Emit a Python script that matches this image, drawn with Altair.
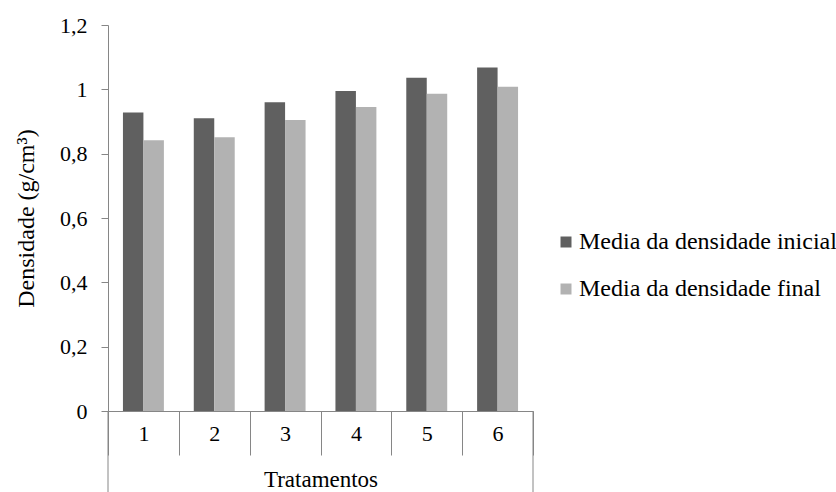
import altair as alt
import pandas as pd

tratamentos = ["1", "2", "3", "4", "5", "6"]
series_names = ["Media da densidade inicial", "Media da densidade final"]
inicial = [0.928, 0.910, 0.960, 0.995, 1.036, 1.068]
final = [0.842, 0.851, 0.905, 0.945, 0.986, 1.008]
y_ticks = [0, 0.2, 0.4, 0.6, 0.8, 1.0, 1.2]

rows = []
for t, a, b in zip(tratamentos, inicial, final):
    rows.append({"trat": t, "serie": series_names[0], "valor": a})
    rows.append({"trat": t, "serie": series_names[1], "valor": b})
df = pd.DataFrame(rows)

FONT = "Liberation Serif"
AXC = "#868686"
W, H = 425, 386

xscale = alt.Scale(domain=tratamentos, paddingInner=0, paddingOuter=0)

bars = alt.Chart(df).mark_bar().encode(
    x=alt.X("trat:N", scale=xscale, sort=tratamentos,
            axis=alt.Axis(title="Tratamentos", labelAngle=0, tickBand="extent",
                          tickSize=44, tickColor=AXC, domainColor=AXC,
                          labelPadding=-22, labelBaseline="middle",
                          labelFont=FONT, labelFontSize=22, labelColor="black",
                          titleFont=FONT, titleFontSize=23, titleFontWeight="normal",
                          titleColor="black", titlePadding=13)),
    xOffset=alt.XOffset("serie:N", sort=series_names,
                        scale=alt.Scale(paddingInner=0, paddingOuter=0.73)),
    y=alt.Y("valor:Q", scale=alt.Scale(domain=[0, 1.2], nice=False),
            axis=alt.Axis(title="Densidade (g/cm³)", values=y_ticks,
                          labelExpr="replace(format(datum.value, '~g'), '.', ',')",
                          grid=False, tickSize=7, tickColor=AXC, domainColor=AXC,
                          labelPadding=14, labelFont=FONT, labelFontSize=22,
                          labelColor="black", titleFont=FONT, titleFontSize=24,
                          titleFontWeight="normal", titleColor="black",
                          titlePadding=21)),
    color=alt.Color("serie:N", sort=series_names,
                    scale=alt.Scale(domain=series_names, range=["#606060", "#b2b2b2"]),
                    legend=alt.Legend(title=None, orient="none", legendX=446, legendY=205,
                                      symbolType="square", symbolSize=121,
                                      symbolStrokeWidth=0, labelFont=FONT,
                                      labelFontSize=24, labelColor="black",
                                      labelOffset=1, rowPadding=23, labelLimit=400)),
)

left_edge = alt.Chart(pd.DataFrame({"trat": [tratamentos[0]]})).mark_rule(color=AXC).encode(
    x=alt.X("trat:N", scale=xscale, bandPosition=0),
    y=alt.value(H), y2=alt.value(H + 81),
)
right_edge = alt.Chart(pd.DataFrame({"trat": [tratamentos[-1]]})).mark_rule(color=AXC).encode(
    x=alt.X("trat:N", scale=xscale, bandPosition=1),
    y=alt.value(H), y2=alt.value(H + 81),
)

chart = alt.layer(bars, left_edge, right_edge).properties(
    width=W, height=H,
    autosize=alt.AutoSizeParams(type="none"),
    padding={"left": 108, "top": 25, "right": 303, "bottom": 81},
    background="white",
).configure(font=FONT).configure_view(stroke=None).configure_axis(
    labelFont=FONT, titleFont=FONT
).configure_legend(labelFont=FONT)

chart.save("out.html", embed_options={"renderer": "svg", "actions": False})
